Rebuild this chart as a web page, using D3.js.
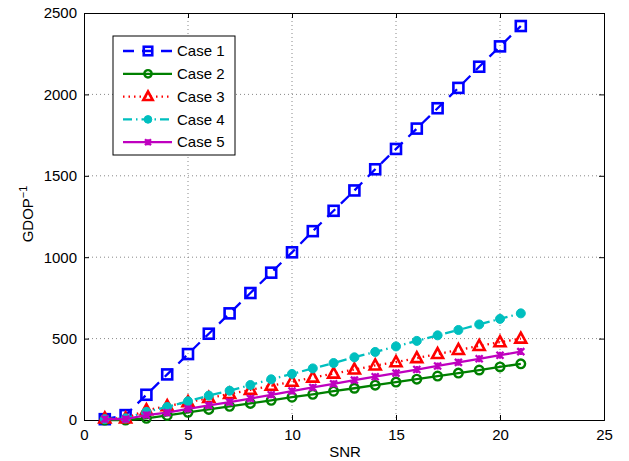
<!DOCTYPE html>
<html><head><meta charset="utf-8">
<script src="https://d3js.org/d3.v7.min.js"></script>
<style>body{margin:0;background:#fff}svg{display:block}text{font-family:"Liberation Sans",Arial,sans-serif}</style>
</head><body>
<svg id="c" width="629" height="461"></svg>
<script>
const snr = [1,2,3,4,5,6,7,8,9,10,11,12,13,14,15,16,17,18,19,20,21];
const case1 = [5,30,155,280,405,530,655,780,905,1030,1160,1285,1410,1540,1665,1790,1915,2040,2170,2295,2420];
const case2 = [0,0,10,28,47,65,84,102,121,140,158,177,195,214,233,251,270,288,307,326,345];
const case3 = [10,10,60,85,110,135,160,185,210,235,260,285,310,335,355,380,405,430,455,478,500];
const case4 = [5,10,50,80,115,150,180,215,250,283,317,350,385,418,452,486,520,553,587,621,655];
const case5 = [5,5,30,45,68,90,110,132,155,178,200,222,245,266,288,310,332,354,376,398,420];
const xTicks = [0,5,10,15,20,25];
const yTicks = [0,500,1000,1500,2000,2500];
const seriesNames = ["Case 1","Case 2","Case 3","Case 4","Case 5"];

const series = [
  {name:seriesNames[0], v:case1, color:"#0000ff", dash:"11,8", marker:"square"},
  {name:seriesNames[1], v:case2, color:"#008000", dash:null, marker:"circle"},
  {name:seriesNames[2], v:case3, color:"#ff0000", dash:"1.5,4", marker:"triangle"},
  {name:seriesNames[3], v:case4, color:"#00bfbf", dash:"9,4,1.5,4", marker:"dot"},
  {name:seriesNames[4], v:case5, color:"#bf00bf", dash:null, marker:"x"}
];

const svg = d3.select("#c");
const L=84, R=604, T=13, B=420;
const FS = 15;
const x = d3.scaleLinear().domain([0,25]).range([L,R]);
const y = d3.scaleLinear().domain([0,2500]).range([B,T]);

// grid
const g = svg.append("g");
g.selectAll(".gx").data(xTicks.slice(1,-1)).enter().append("line")
  .attr("x1",d=>x(d)).attr("x2",d=>x(d)).attr("y1",T).attr("y2",B)
  .attr("stroke","#888").attr("stroke-width",1).attr("stroke-dasharray","1,3");
g.selectAll(".gy").data(yTicks.slice(1,-1)).enter().append("line")
  .attr("y1",d=>y(d)).attr("y2",d=>y(d)).attr("x1",L).attr("x2",R)
  .attr("stroke","#888").attr("stroke-width",1).attr("stroke-dasharray","1,3");

// axes
const fmt = d3.format("d");
const xa = svg.append("g").attr("transform",`translate(0,${B})`)
  .call(d3.axisBottom(x).tickValues(xTicks).tickFormat(fmt).tickSize(-5).tickPadding(9));
const xa2 = svg.append("g").attr("transform",`translate(0,${T})`)
  .call(d3.axisTop(x).tickValues(xTicks).tickSize(-5).tickFormat(""));
const ya = svg.append("g").attr("transform",`translate(${L},0)`)
  .call(d3.axisLeft(y).tickValues(yTicks).tickFormat(fmt).tickSize(-5).tickPadding(7));
const ya2 = svg.append("g").attr("transform",`translate(${R},0)`)
  .call(d3.axisRight(y).tickValues(yTicks).tickSize(-5).tickFormat(""));
[xa,xa2,ya,ya2].forEach(a=>{
  a.attr("font-size",FS).attr("font-family","Liberation Sans, Arial, sans-serif");
  a.selectAll("path").attr("stroke","#000").attr("stroke-width",1);
  a.selectAll("line").attr("stroke","#000");
  a.selectAll("text").attr("font-size",FS).attr("fill","#000");
});

// labels
svg.append("text").attr("x",(L+R)/2+1).attr("y",457).attr("text-anchor","middle")
  .attr("font-size",FS).text("SNR");
const yl = svg.append("text").attr("transform","translate(33,214) rotate(-90)").attr("text-anchor","middle").attr("font-size",FS);
yl.append("tspan").text("GDOP");
yl.append("tspan").attr("dy",-6).attr("font-size",11).text("−1");

function drawMarker(sel, m, color, sc){
  sc = sc||1;
  if(m==="square"){
    const h=5*sc;
    sel.append("rect").attr("x",-h).attr("y",-h).attr("width",2*h).attr("height",2*h)
      .attr("fill","none").attr("stroke",color).attr("stroke-width",2.6);
  } else if(m==="circle"){
    sel.append("circle").attr("r",4.3*sc).attr("fill","none").attr("stroke",color).attr("stroke-width",2.4);
  } else if(m==="triangle"){
    const s=sc;
    sel.append("path").attr("d",`M0,${-6*s}L${5.5*s},${4*s}L${-5.5*s},${4*s}Z`).attr("fill","none").attr("stroke",color).attr("stroke-width",2.6);
  } else if(m==="dot"){
    sel.append("circle").attr("r",4.5*sc).attr("fill",color).attr("stroke",color).attr("stroke-width",1);
  } else if(m==="x"){
    const a=3.5*sc;
    sel.append("path").attr("d",`M${-a},${-a}L${a},${a}M${-a},${a}L${a},${-a}M0,${-a}L0,${a}`).attr("stroke",color).attr("stroke-width",2.3).attr("fill","none");
  }
}

const line = d3.line().x((d,i)=>x(snr[i])).y(d=>y(d));
series.forEach(s=>{
  svg.append("path").datum(s.v).attr("d",line).attr("fill","none")
    .attr("stroke",s.color).attr("stroke-width",2.3)
    .attr("stroke-dasharray",s.dash);
  const mg = svg.append("g");
  s.v.forEach((d,i)=>{
    const gg = mg.append("g").attr("transform",`translate(${x(snr[i])},${y(d)})`);
    drawMarker(gg,s.marker,s.color);
  });
});

// legend
const lg = svg.append("g").attr("transform","translate(113,36)");
lg.append("rect").attr("width",122).attr("height",119).attr("fill","#fff").attr("stroke","#000").attr("stroke-width",1);
series.forEach((s,i)=>{
  const yy = 15 + i*22.8;
  lg.append("line").attr("x1",10).attr("x2",59).attr("y1",yy).attr("y2",yy)
    .attr("stroke",s.color).attr("stroke-width",2.3).attr("stroke-dasharray",s.dash);
  const mm = lg.append("g").attr("transform",`translate(35,${yy})`);
  drawMarker(mm,s.marker,s.color,0.85);
  lg.append("text").attr("x",64).attr("y",yy).attr("dy","0.35em").attr("font-size",FS).text(s.name);
});
</script>
</body></html>
